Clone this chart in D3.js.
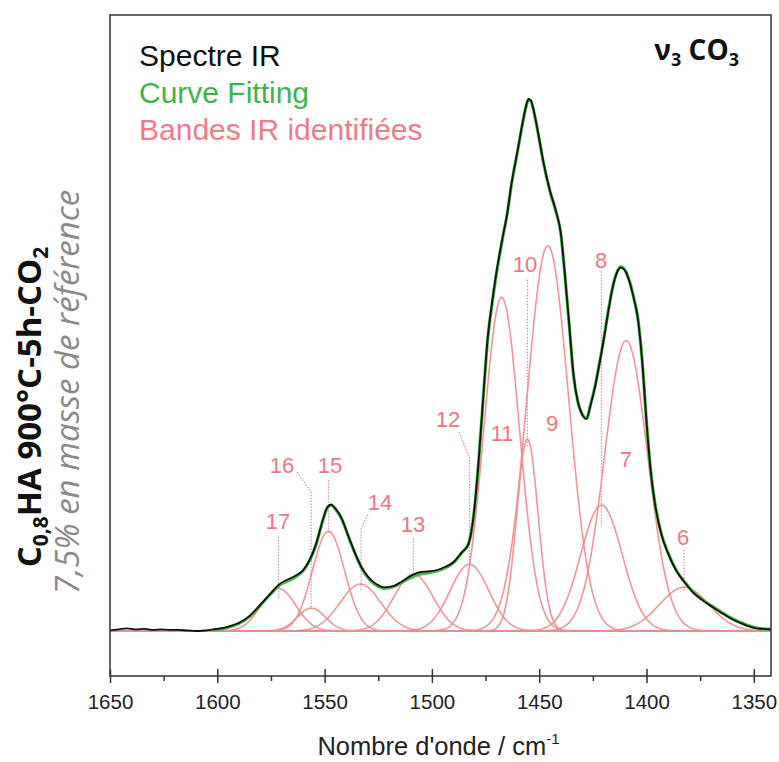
<!DOCTYPE html>
<html><head><meta charset="utf-8">
<script src="https://cdn.jsdelivr.net/npm/d3@7"></script>
<style>body{margin:0;background:#fff}svg{display:block}</style>
</head><body>
<svg id="c" width="779" height="762"></svg>
<script>
// ---------- data ----------
const specWn = [1650,1646,1642,1638,1634,1630,1626,1622,1618,1614,1610,1606,1602,1598,1594,1590,1585,1580,1575,1571,1567,1563,1560,1557,1554,1551,1549,1547,1545,1542,1539,1536,1533,1530,1526,1522,1518,1514,1510,1506,1502,1498,1494,1490,1486,1483,1480,1478,1476,1474,1472,1470,1467,1465,1463,1460,1458,1456,1455,1454,1452,1450,1448,1445,1442,1440,1438,1436,1434,1432,1430,1428,1426,1424,1422,1420,1418,1416,1414,1412,1410,1408,1406,1404,1402,1400,1398,1396,1393,1390,1386,1382,1378,1374,1370,1365,1360,1355,1350,1346,1342];
const specVal = [0.001,0.003,0.005,0.003,0.004,0.002,0.003,0.002,0.002,0.001,0.000,0.001,0.003,0.005,0.009,0.015,0.028,0.049,0.071,0.088,0.097,0.105,0.114,0.133,0.163,0.206,0.230,0.237,0.230,0.211,0.179,0.148,0.121,0.103,0.088,0.082,0.084,0.093,0.103,0.110,0.112,0.114,0.120,0.129,0.148,0.163,0.237,0.331,0.443,0.550,0.615,0.671,0.740,0.781,0.837,0.903,0.948,0.987,0.998,0.996,0.966,0.923,0.879,0.826,0.785,0.748,0.667,0.574,0.480,0.430,0.406,0.398,0.425,0.458,0.500,0.545,0.595,0.640,0.670,0.682,0.676,0.656,0.625,0.585,0.505,0.392,0.298,0.237,0.180,0.146,0.112,0.090,0.071,0.058,0.047,0.034,0.022,0.013,0.006,0.004,0.003];
const fitWn = [1602,1598,1594,1590,1585,1580,1575,1571,1567,1563,1560,1557,1554,1551,1549,1547,1545,1542,1539,1536,1533,1530,1526,1522,1518,1514,1510,1506,1502,1498,1494,1490,1486,1483,1480,1478,1476,1474,1472,1470,1467,1465,1463,1460,1458,1456,1455,1454,1452,1450,1448,1445,1442,1440,1438,1436,1434,1432,1430,1428,1426,1424,1422,1420,1418,1416,1414,1412,1410,1408,1406,1404,1402,1400,1398,1396,1393,1390,1386,1382,1378,1374,1370,1365,1360,1355,1350,1346,1342];
const fitVal = [0.002,0.004,0.008,0.014,0.027,0.048,0.070,0.086,0.094,0.103,0.113,0.132,0.162,0.205,0.229,0.236,0.229,0.210,0.178,0.147,0.120,0.101,0.086,0.080,0.083,0.091,0.100,0.106,0.109,0.112,0.118,0.128,0.147,0.163,0.236,0.330,0.442,0.548,0.613,0.669,0.738,0.780,0.836,0.902,0.947,0.986,0.997,0.995,0.965,0.922,0.878,0.825,0.784,0.747,0.666,0.573,0.479,0.430,0.407,0.399,0.426,0.459,0.501,0.546,0.596,0.641,0.671,0.683,0.677,0.657,0.626,0.586,0.506,0.393,0.299,0.238,0.181,0.147,0.113,0.091,0.072,0.059,0.048,0.035,0.023,0.014,0.007,0.004,0.003];

const bandIds     = ["6","7","8","9","10","11","12","13","14","15","16","17"];
const bandCenters = [1382.5,1409.5,1421.0,1446.0,1455.5,1467.5,1482.5,1508.6,1533.3,1548.2,1556.2,1571.5];
const bandHeights = [0.082,0.545,0.236,0.723,0.360,0.626,0.125,0.107,0.088,0.187,0.043,0.080];
const bandSigmas  = [11.5,10.0,9.7,9.7,5.0,8.3,9.0,9.0,9.5,7.5,6.5,8.0];

// label anchors (wavenumber, value) and leader polylines
const labelWn  = [1383.0,1409.6,1421.2,1444.0,1456.6,1467.3,1492.5,1508.8,1524.2,1547.5,1569.9,1571.7];
const labelVal = [0.176,0.321,0.696,0.390,0.687,0.371,0.396,0.199,0.242,0.311,0.311,0.205];
const leaders = {
  "6":  [[1382.5,0.152],[1382.5,0.073]],
  "8":  [[1421.0,0.675],[1421.0,0.195]],
  "10": [[1455.5,0.659],[1455.5,0.345]],
  "12": [[1487.4,0.373],[1482.5,0.325],[1482.5,0.124]],
  "13": [[1508.6,0.174],[1508.6,0.096]],
  "14": [[1529.8,0.218],[1533.0,0.193],[1533.0,0.077]],
  "15": [[1548.2,0.283],[1548.2,0.184]],
  "16": [[1562.9,0.298],[1556.3,0.261],[1556.3,0.045]],
  "17": [[1571.5,0.177],[1571.5,0.062]]
};

const xMajor = [1650,1600,1550,1500,1450,1400,1350];
const xMinor = [1625,1575,1525,1475,1425,1375];
const legendItems = ["Spectre IR","Curve Fitting","Bandes IR identifiées"];

// ---------- layout ----------
const svg = d3.select("#c");
const L = 110, R = 771, T = 15, B = 676;
const x = d3.scaleLinear().domain([1650,1342]).range([L,R]);
const y = d3.scaleLinear().domain([-0.0844,1.1557]).range([B,T]);

const pink = "#f08a8c";
const plot = svg.append("g");

// bands
const grid = d3.range(1650, 1341.9, -0.5);
const line = d3.line().x(d=>x(d[0])).y(d=>y(d[1]));
bandIds.forEach((id,i)=>{
  const c=bandCenters[i], h=bandHeights[i], s=bandSigmas[i];
  const pts = grid.map(w=>[w, h*Math.exp(-0.5*((w-c)/s)**2)]);
  plot.append("path").attr("d", line(pts)).attr("fill","none")
    .attr("stroke",pink).attr("stroke-width",1.6).attr("stroke-opacity",0.9);
});
// baseline
plot.append("line").attr("x1",x(1650)).attr("x2",x(1342)).attr("y1",y(0)).attr("y2",y(0))
  .attr("stroke",pink).attr("stroke-width",1.8);

// leaders
Object.entries(leaders).forEach(([k,pts])=>{
  plot.append("path").attr("d", line(pts)).attr("fill","none")
    .attr("stroke","#d58fb0").attr("stroke-width",1.2).attr("stroke-dasharray","1.5,1.5");
});
// labels
bandIds.forEach((id,i)=>{
  plot.append("text").attr("x",x(labelWn[i])).attr("y",y(labelVal[i]))
    .attr("text-anchor","middle").attr("dominant-baseline","central")
    .attr("font-family","Liberation Sans, Arial, sans-serif").attr("font-size",22)
    .attr("fill","#ee7780").text(id);
});

// fit and spectrum
const curve = d3.line().x(d=>x(d[0])).y(d=>y(d[1])).curve(d3.curveMonotoneX);
plot.append("path").attr("d", curve(fitWn.map((w,i)=>[w,fitVal[i]]))).attr("fill","none")
  .attr("stroke","#4cb84a").attr("stroke-width",3.2).attr("stroke-linejoin","round");
plot.append("path").attr("d", curve(specWn.map((w,i)=>[w,specVal[i]]))).attr("fill","none")
  .attr("stroke","#111").attr("stroke-width",1.8).attr("stroke-linejoin","round");

// frame
svg.append("rect").attr("x",L).attr("y",T).attr("width",R-L).attr("height",B-T)
  .attr("fill","none").attr("stroke","#333").attr("stroke-width",1.5);

// axes
const font = "Liberation Sans, Arial, sans-serif";
const ax = svg.append("g").attr("transform",`translate(0,${B})`)
  .call(d3.axisBottom(x).tickValues(xMajor).tickSize(7).tickPadding(11).tickFormat(d3.format("d")));
ax.select(".domain").remove();
ax.selectAll("line").attr("stroke","#333").attr("stroke-width",1.5);
ax.selectAll("text").attr("font-family",font).attr("font-size",20.5).attr("fill","#222");
const axUp = svg.append("g").attr("transform",`translate(0,${B})`)
  .call(d3.axisTop(x).tickValues(xMajor).tickSize(7).tickFormat(""));
axUp.select(".domain").remove();
axUp.selectAll("line").attr("stroke","#333").attr("stroke-width",1.5);
const axMin = svg.append("g").attr("transform",`translate(0,${B})`)
  .call(d3.axisBottom(x).tickValues(xMinor).tickSize(5).tickFormat(""));
axMin.select(".domain").remove();
axMin.selectAll("line").attr("stroke","#333").attr("stroke-width",1.5);

// axis title
const xt = svg.append("text").attr("x",(L+R)/2-2).attr("y",755).attr("text-anchor","middle")
  .attr("font-family",font).attr("font-size",25.5).attr("fill","#222");
xt.append("tspan").text("Nombre d'onde / cm");
xt.append("tspan").attr("dy",-11).attr("font-size",15).text("-1");

// y labels
const yl1 = svg.append("text").attr("transform","translate(41,407) rotate(-90)").attr("text-anchor","middle")
  .attr("font-family","Open Sans, sans-serif").attr("font-weight","bold").attr("font-size",33).attr("fill","#111");
yl1.append("tspan").text("C");
yl1.append("tspan").attr("font-size",21).attr("dy",7).text("0,8");
yl1.append("tspan").attr("dy",-7).text("HA 900°C-5h-CO");
yl1.append("tspan").attr("font-size",21).attr("dy",7).text("2");
svg.append("text").attr("transform","translate(79,392) rotate(-90)").attr("text-anchor","middle")
  .attr("font-family","Open Sans, sans-serif").attr("font-style","italic").attr("font-size",33)
  .attr("fill","#8a8a8a").text("7,5% en masse de référence");

// legend
const legColors = ["#111","#3fb44a","#f07b84"];
legendItems.forEach((t,i)=>{
  svg.append("text").attr("x",139).attr("y",66+i*37).attr("font-family",font).attr("font-size",30)
    .attr("fill",legColors[i]).text(t);
});
// nu3 CO3
const nu = svg.append("text").attr("x",739).attr("y",60).attr("text-anchor","end")
  .attr("font-family","Open Sans, sans-serif").attr("font-weight","bold").attr("font-size",28).attr("fill","#111");
nu.append("tspan").text("ν");
nu.append("tspan").attr("font-size",18).attr("dy",6).text("3");
nu.append("tspan").attr("dy",-6).text(" CO");
nu.append("tspan").attr("font-size",18).attr("dy",6).text("3");
</script>
</body></html>
